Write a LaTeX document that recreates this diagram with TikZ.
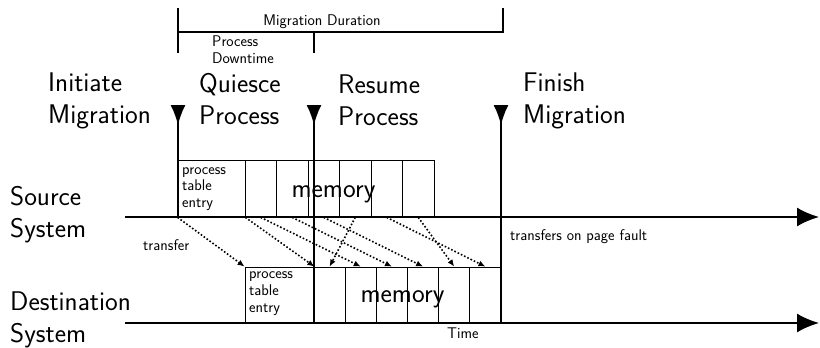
\documentclass[tikz,border=0pt]{standalone}
\usepackage{fontspec}
\usetikzlibrary{arrows.meta}
\tikzset{
  biglabel/.style={font=\sffamily\fontsize{27}{32}\selectfont,align=left,inner sep=0pt},
  smalllabel/.style={font=\sffamily\fontsize{15.5}{16.8}\selectfont,align=left,inner sep=0pt},
  cell/.style={draw,line width=0.8pt,minimum height=57pt,minimum width=31.5pt,inner sep=0pt},
  dcell/.style={cell,minimum height=56pt,minimum width=31.17pt},
  pagecopy/.style={dotted,line width=1.6pt,-{Latex[length=7pt,width=6pt]}},
  event/.style={line width=1.8pt,{Latex[reversed,length=20pt,width=15pt]}-},
  timeline/.style={line width=1.8pt,-{Latex[length=22pt,width=19pt]}},
}
\begin{document}
\begin{tikzpicture}[x=1pt,y=-1pt,line cap=butt]
  \useasboundingbox (0,0) rectangle (820,348);
  % duration brackets
  \draw[line width=1.5pt] (178,8) -- (178,53);
  \draw[line width=1.5pt] (178,32) -- (503,32) -- (503,8);
  \draw[line width=1.5pt] (314,32) -- (314,53);
  \node[smalllabel,anchor=base] (duration) at (322,25) {Migration Duration};
  \node[smalllabel,anchor=north west] (downtime) at (212,35.5) {Process\\Downtime};
  % event labels
  \node[biglabel,anchor=north west] (initiate) at (48,72.3) {Initiate\\Migration};
  \node[biglabel,anchor=north west] (quiesce) at (199,73.3) {Quiesce\\Process};
  \node[biglabel,anchor=north west] (resume) at (338,74.5) {Resume\\Process};
  \node[biglabel,anchor=north west] (finish) at (523,72.5) {Finish\\Migration};
  \node[biglabel,anchor=north west] (source) at (10,186.3) {Source\\System};
  \node[biglabel,anchor=north west] (dest) at (10,291.3) {Destination\\System};
  % source memory
  \node[cell,minimum width=67pt] (spte) at (211.5,188.5) {};
  \node[cell] (s1) at (260.75,188.5) {};
  \node[cell] (s2) at (292.25,188.5) {};
  \node[cell] (s3) at (323.75,188.5) {};
  \node[cell] (s4) at (355.25,188.5) {};
  \node[cell] (s5) at (386.75,188.5) {};
  \node[cell] (s6) at (418.25,188.5) {};
  \node[smalllabel,anchor=north west] (sptetext) at (182,167) {process\\table\\entry};
  \node[biglabel] (smem) at (333.5,194.5) {memory};
  % destination memory
  \node[cell,minimum width=69pt,minimum height=56pt] (dpte) at (279.5,295) {};
  \node[dcell] (d1) at (329.58,295) {};
  \node[dcell] (d2) at (360.75,295) {};
  \node[dcell] (d3) at (391.92,295) {};
  \node[dcell] (d4) at (423.08,295) {};
  \node[dcell] (d5) at (454.25,295) {};
  \node[dcell] (d6) at (485.42,295) {};
  \node[smalllabel,anchor=north west] (dptetext) at (249,271.5) {process\\table\\entry};
  \node[biglabel] (dmem) at (402.5,299.5) {memory};
  % time lines
  \coordinate (srcstart) at (125,217);
  \coordinate (srcend) at (819,217);
  \coordinate (dststart) at (125,323);
  \coordinate (dstend) at (819,323);
  \draw[timeline] (srcstart) -- (srcend);
  \draw[timeline] (dststart) -- (dstend);
  % events
  \coordinate (quiescetop) at (178,105);
  \coordinate (quiescebot) at (178,217);
  \coordinate (resumetop) at (314,105);
  \coordinate (resumebot) at (314,323);
  \coordinate (finishtop) at (501,105);
  \coordinate (finishbot) at (501,323);
  \draw[event] (quiescetop) -- (quiescebot);
  \draw[event] (resumetop) -- (resumebot);
  \draw[event] (finishtop) -- (finishbot);
  % page transfers
  \draw[pagecopy] (spte.south west) -- (dpte.north west);
  \draw[pagecopy] (spte.south east) -- (dpte.north east);
  \draw[pagecopy] (s1.south) -- (d2.north);
  \draw[pagecopy] (s2.south) -- (d3.north);
  \draw[pagecopy] (s3.south) -- (d4.north);
  \draw[pagecopy] (s4.south) -- (d1.north);
  \draw[pagecopy] (s5.south) -- (d6.north);
  \draw[pagecopy] (s6.south) -- (d5.north);
  \node[smalllabel,anchor=base west] (transfer) at (143,250) {transfer};
  \node[smalllabel,anchor=base west] (pagefault) at (510,240) {transfers on page fault};
  \node[smalllabel,anchor=base west] (time) at (447,338) {Time};
\end{tikzpicture}
\end{document}
